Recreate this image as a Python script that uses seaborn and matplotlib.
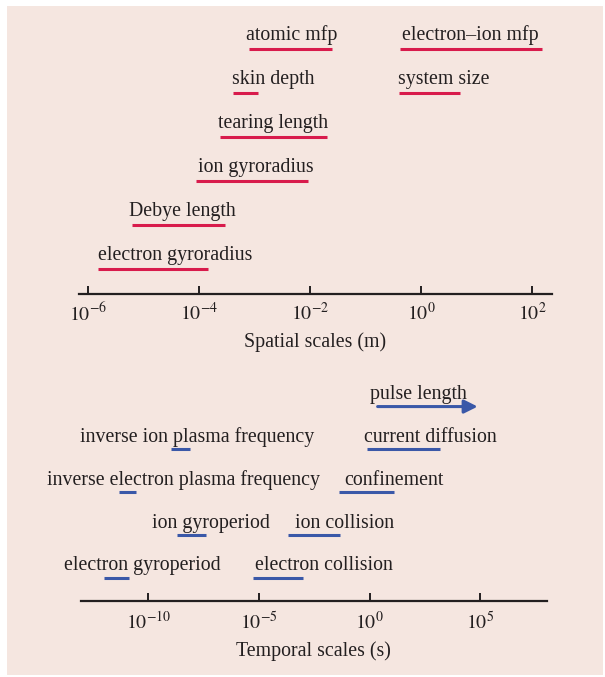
import numpy as np
import pandas as pd
import matplotlib
matplotlib.use("Agg")
import matplotlib.pyplot as plt
import seaborn as sns
from matplotlib.patches import Rectangle

# ---------------- data ----------------
spatial_labels = ["electron gyroradius", "Debye length", "ion gyroradius", "tearing length",
                  "skin depth", "system size", "atomic mfp", "electron\u2013ion mfp"]
spatial_rows = [0, 1, 2, 3, 4, 4, 5, 5]
spatial_lo = [1.55e-6, 6.2e-6, 8.7e-5, 2.4e-4, 4.1e-4, 0.40, 7.9e-4, 0.41]
spatial_hi = [1.44e-4, 2.9e-4, 9.0e-3, 1.99e-2, 1.17e-3, 4.97, 2.44e-2, 147.0]
spatial_ticks = [1e-6, 1e-4, 1e-2, 1e0, 1e2]
spatial_ticklabels = [r"$10^{-6}$", r"$10^{-4}$", r"$10^{-2}$", r"$10^{0}$", r"$10^{2}$"]

temporal_labels = ["electron gyroperiod", "electron collision", "ion gyroperiod", "ion collision",
                   "inverse electron plasma frequency", "confinement",
                   "inverse ion plasma frequency", "current diffusion", "pulse length"]
temporal_rows = [0, 0, 1, 1, 2, 2, 3, 3, 4]
temporal_lo = [1.0e-12, 5.2e-6, 2.06e-9, 2.0e-4, 4.95e-12, 4.3e-2, 1.04e-9, 0.79, 2.3]
temporal_hi = [1.4e-11, 9.5e-4, 3.95e-8, 4.6e-2, 2.8e-11, 13.1, 7.7e-9, 1.5e3, 7.6e4]
temporal_ticks = [1e-10, 1e-5, 1e0, 1e5]
temporal_ticklabels = [r"$10^{-10}$", r"$10^{-5}$", r"$10^{0}$", r"$10^{5}$"]

# label horizontal offsets (pixels) relative to the bar start
spatial_dx = [0, -3, 2, -2, -1, -1, -3, 2]
temporal_dx = [-40, 2, -25, 7, -72, 5, -91, -3, -8]

# ---------------- style ----------------
RED = "#d81b4c"
BLUE = "#3a58a8"
BG = "#f5e6e0"
TXT = "#231f20"

sns.set_theme(style="white")
plt.rcParams["font.family"] = ["Liberation Serif", "DejaVu Serif"]
plt.rcParams["mathtext.fontset"] = "stix"
FS = 14.3

W, H = 605, 677
fig = plt.figure(figsize=(W / 100, H / 100), dpi=100)
fig.patch.set_facecolor("white")
fig.add_artist(Rectangle((7 / W, 1 - 675 / H), (603 - 7) / W, (675 - 6) / H,
                         transform=fig.transFigure, facecolor=BG, edgecolor="none", zorder=-10))


def make_axes(left, right, bottom, top):
    ax = fig.add_axes([left / W, 1 - bottom / H, (right - left) / W, (bottom - top) / H])
    ax.set_facecolor("none")
    ax.patch.set_alpha(0)
    for s in ["left", "top", "right"]:
        ax.spines[s].set_visible(False)
    ax.spines["bottom"].set_linewidth(1.6)
    ax.spines["bottom"].set_color(TXT)
    ax.set_yticks([])
    ax.set_ylabel("")
    return ax


def draw_panel(ax, labels, rows, lo, hi, color, dxs, text_dy, arrow_last=False):
    recs = []
    for i, (lab, r, a, b) in enumerate(zip(labels, rows, lo, hi)):
        if arrow_last and i == len(labels) - 1:
            continue
        recs.append({"label": lab, "row": r, "x": a})
        recs.append({"label": lab, "row": r, "x": b})
    df = pd.DataFrame(recs)
    sns.lineplot(data=df, x="x", y="row", units="label", estimator=None, sort=False,
                 color=color, lw=2.2, ax=ax, legend=False, solid_capstyle="butt")
    if arrow_last:
        ax.annotate("", xy=(hi[-1], rows[-1]), xytext=(lo[-1], rows[-1]),
                    arrowprops=dict(arrowstyle="-|>,head_length=0.5,head_width=0.25",
                                    color=color, lw=2.2,
                                    mutation_scale=16, shrinkA=0, shrinkB=0))
    for lab, r, a, dx in zip(labels, rows, lo, dxs):
        ax.annotate(lab, xy=(a, r), xytext=(dx * 0.72, text_dy * 0.72),
                    textcoords="offset points", ha="left", va="baseline",
                    fontsize=FS, color=TXT)
    ax.set_ylabel("")


# spatial
ax1 = make_axes(79, 551.7, 294.3, 15)
draw_panel(ax1, spatial_labels, spatial_rows, spatial_lo, spatial_hi, RED, spatial_dx, 8.5)
ax1.set_xscale("log")
ax1.set_xlim(10 ** -6.158, 10 ** 2.346)
ax1.set_ylim(-0.575, 5.77)
ax1.set_xticks(spatial_ticks)
ax1.set_xticklabels(spatial_ticklabels)
ax1.xaxis.set_minor_locator(matplotlib.ticker.NullLocator())
ax1.tick_params(axis="x", direction="in", length=6, width=1.4, color=TXT,
                labelsize=FS, labelcolor=TXT, pad=6, bottom=True)
ax1.set_xlabel("Spatial scales (m)", fontsize=FS, color=TXT, labelpad=5)

# temporal
ax2 = make_axes(81, 546.7, 600.7, 380)
draw_panel(ax2, temporal_labels, temporal_rows, temporal_lo, temporal_hi, BLUE, temporal_dx, 7.5,
           arrow_last=True)
ax2.set_xscale("log")
ax2.set_xlim(10 ** -13.04, 10 ** 8.0)
ax2.set_ylim(-0.53, 4.62)
ax2.set_xticks(temporal_ticks)
ax2.set_xticklabels(temporal_ticklabels)
ax2.xaxis.set_minor_locator(matplotlib.ticker.NullLocator())
ax2.tick_params(axis="x", direction="in", length=6, width=1.4, color=TXT,
                labelsize=FS, labelcolor=TXT, pad=8, bottom=True)
ax2.set_xlabel("Temporal scales (s)", fontsize=FS, color=TXT, labelpad=5)

fig.savefig("out.png", dpi=100, facecolor=fig.get_facecolor())
